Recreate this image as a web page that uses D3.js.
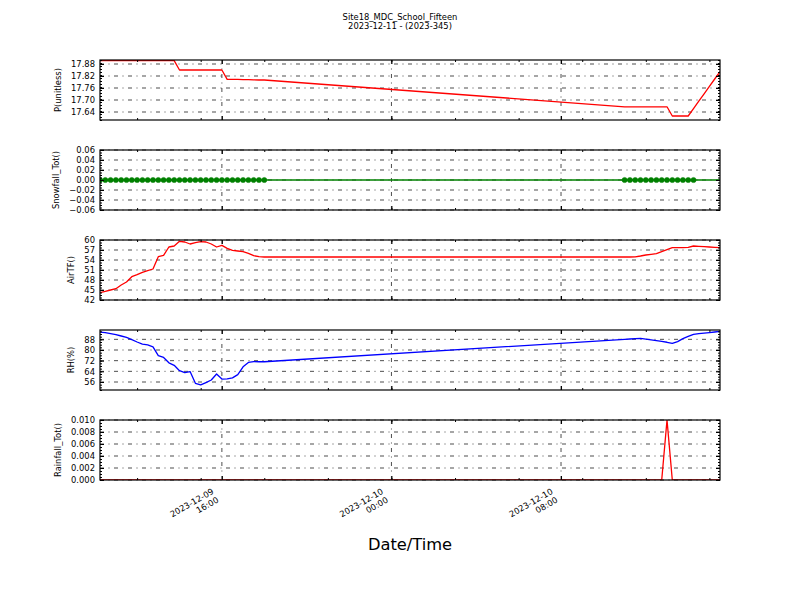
<!DOCTYPE html>
<html>
<head>
<meta charset="utf-8">
<script src="https://cdn.jsdelivr.net/npm/d3@7"></script>
<style>
  body { margin: 0; background: #fff; }
  svg { display: block; font-family: "DejaVu Sans", sans-serif; }
</style>
</head>
<body>
<svg id="chart" width="800" height="600"></svg>
<script>
// ---------------- DATA ----------------
const titleLine1 = "Site18_MDC_School_Fifteen";
const titleLine2 = "2023-12-11 - (2023-345)";
const xAxisLabel = "Date/Time";

const times = [
  "2023-12-09 10:15","2023-12-09 10:30","2023-12-09 10:45","2023-12-09 11:00",
  "2023-12-09 11:15","2023-12-09 11:30","2023-12-09 11:45","2023-12-09 12:00",
  "2023-12-09 12:15","2023-12-09 12:30","2023-12-09 12:45","2023-12-09 13:00",
  "2023-12-09 13:15","2023-12-09 13:30","2023-12-09 13:45","2023-12-09 14:00",
  "2023-12-09 14:15","2023-12-09 14:30","2023-12-09 14:45","2023-12-09 15:00",
  "2023-12-09 15:15","2023-12-09 15:30","2023-12-09 15:45","2023-12-09 16:00",
  "2023-12-09 16:15","2023-12-09 16:30","2023-12-09 16:45","2023-12-09 17:00",
  "2023-12-09 17:15","2023-12-09 17:30","2023-12-09 17:45","2023-12-09 18:00",
  "2023-12-10 11:00","2023-12-10 11:15","2023-12-10 11:30","2023-12-10 11:45",
  "2023-12-10 12:00","2023-12-10 12:15","2023-12-10 12:30","2023-12-10 12:45",
  "2023-12-10 13:00","2023-12-10 13:15","2023-12-10 13:30","2023-12-10 13:45",
  "2023-12-10 14:00","2023-12-10 14:15","2023-12-10 14:30","2023-12-10 14:45",
  "2023-12-10 15:00","2023-12-10 15:15","2023-12-10 15:30"
];

const pressure = [
  17.897,17.897,17.897,17.897,17.897,17.897,17.897,17.897,
  17.897,17.897,17.897,17.897,17.897,17.897,17.897,17.850,
  17.850,17.850,17.850,17.850,17.850,17.850,17.850,17.850,
  17.803,17.803,17.803,17.802,17.802,17.801,17.800,17.800,
  17.666,17.666,17.666,17.666,17.666,17.666,17.666,17.666,
  17.666,17.620,17.620,17.620,17.620,17.657,17.694,17.731,
  17.768,17.805,17.842
];

const snowfall = [
  0,0,0,0,0,0,0,0,0,0,0,0,0,0,0,0,
  0,0,0,0,0,0,0,0,0,0,0,0,0,0,0,0,
  0,0,0,0,0,0,0,0,0,0,0,0,0,0,0,0,0,0,0
];
// snowfall samples that carry a marker
const snowMarked = [
  1,1,1,1,1,1,1,1,1,1,1,1,1,1,1,1,
  1,1,1,1,1,1,1,1,1,1,1,1,1,1,1,1,
  1,1,1,1,1,1,1,1,1,1,1,1,1,1,0,0,0,0,0
];

const airTF = [
  44.2,44.6,45.0,45.4,46.5,47.4,49.0,49.6,
  50.3,50.8,51.3,55.0,55.4,57.9,58.2,59.6,
  59.4,58.8,59.2,59.5,59.4,58.8,57.9,58.4,
  57.5,56.9,56.7,56.5,56.0,55.3,55.0,54.9,
  54.9,54.9,54.95,55.2,55.5,55.7,55.9,56.5,
  57.1,57.7,57.7,57.7,57.8,58.2,58.1,58.0,
  57.9,57.8,57.7
];

const rh = [
  93.4,93.0,92.3,91.5,90.5,89.5,87.8,86.0,
  84.4,83.8,82.4,75.8,74.4,70.4,68.5,64.5,
  63.0,63.8,55.0,53.8,55.6,57.5,62.0,58.2,
  58.3,59.1,61.5,67.4,70.7,71.3,71.2,71.2,
  88.0,88.25,88.5,88.75,88.2,87.6,87.0,86.4,
  85.8,85.0,86.3,88.5,90.2,91.7,92.3,92.7,
  93.1,93.5,93.9
];

const rainfall = [
  0,0,0,0,0,0,0,0,0,0,0,0,0,0,0,0,
  0,0,0,0,0,0,0,0,0,0,0,0,0,0,0,0,
  0,0,0,0,0,0,0,0,0.010,0,0,0,0,0,0,0,0,0,0
];

const pTicks = [17.64, 17.70, 17.76, 17.82, 17.88];
const snowTicks = [-0.06, -0.04, -0.02, 0.00, 0.02, 0.04, 0.06];
const airTicks = [42, 45, 48, 51, 54, 57, 60];
const rhTicks = [56, 64, 72, 80, 88];
const rainTicks = [0.000, 0.002, 0.004, 0.006, 0.008, 0.010];

const xTickLabels = ["2023-12-09 16:00", "2023-12-10 00:00", "2023-12-10 08:00"];

// ---------------- DRAW ----------------
const parse = d3.timeParse("%Y-%m-%d %H:%M");
const T = times.map(parse);
const svg = d3.select("#chart");
const L = 100, R = 720, PH = 60;
const small = 8.4;

const x = d3.scaleTime().domain([T[0], T[T.length - 1]]).range([L, R]);
const majorX = xTickLabels.map(parse);
const minorX = d3.timeHour.every(3).range(T[0], T[T.length - 1]);

const panels = [
  {vals: pressure, dom: [17.60, 17.90], ticks: pTicks, minor: 0.015, fmt: d3.format(".2f"), label: "P(unitless)", color: "#ff0000"},
  {vals: snowfall, dom: [-0.06, 0.06], ticks: snowTicks, minor: 0.005, fmt: d3.format(".2f"), label: "Snowfall_Tot()", color: "#008000", markers: true},
  {vals: airTF, dom: [42, 60], ticks: airTicks, minor: 0.75, fmt: d3.format("d"), label: "AirTF()", color: "#ff0000"},
  {vals: rh, dom: [50, 95], ticks: rhTicks, minor: 2, fmt: d3.format("d"), label: "RH(%)", color: "#0000ff"},
  {vals: rainfall, dom: [0, 0.010], ticks: rainTicks, minor: 0.0005, fmt: d3.format(".3f"), label: "Rainfall_Tot()", color: "#ff0000"}
];
const tops = [60, 150, 240, 330, 420];

// title
svg.append("text").attr("x", 400).attr("y", 20).attr("text-anchor", "middle")
  .attr("font-size", small).text(titleLine1);
svg.append("text").attr("x", 400).attr("y", 28.5).attr("text-anchor", "middle")
  .attr("font-size", small).text(titleLine2);

panels.forEach((p, i) => {
  const top = tops[i], bot = top + PH;
  const y = d3.scaleLinear().domain(p.dom).range([bot, top]);
  const g = svg.append("g");

  const clipId = "clip" + i;
  svg.append("clipPath").attr("id", clipId).append("rect")
    .attr("x", L).attr("y", top).attr("width", R - L).attr("height", PH);

  // grid
  const grid = g.append("g").attr("stroke", "#000").attr("stroke-width", 0.7)
    .attr("stroke-dasharray", "4,4.5,1,4.5").attr("fill", "none");
  p.ticks.forEach(t => {
    grid.append("line").attr("x1", L).attr("x2", R).attr("y1", y(t)).attr("y2", y(t));
  });
  majorX.forEach(t => {
    grid.append("line").attr("x1", x(t)).attr("x2", x(t)).attr("y1", top).attr("y2", bot);
  });

  // data line
  const data = T.map((t, k) => ({t: t, v: p.vals[k], m: p.markers ? snowMarked[k] : 0}));
  const line = d3.line().x(d => x(d.t)).y(d => y(d.v));
  const dg = g.append("g").attr("clip-path", `url(#${clipId})`);
  dg.append("path").datum(data).attr("d", line).attr("fill", "none")
    .attr("stroke", p.color).attr("stroke-width", 1.3).attr("stroke-linejoin", "round");
  if (p.markers) {
    dg.selectAll("circle").data(data.filter(d => d.m)).join("circle")
      .attr("cx", d => x(d.t)).attr("cy", d => y(d.v)).attr("r", 2.6)
      .attr("fill", p.color).attr("stroke", p.color).attr("stroke-width", 0.5);
  }

  // ticks
  const minorY = d3.range(p.dom[0], p.dom[1] + p.minor / 2, p.minor);
  const ax = [];
  ax.push(g.append("g").attr("transform", `translate(${L},0)`)
    .call(d3.axisRight(y).tickValues(minorY).tickSize(2).tickFormat("")));
  ax.push(g.append("g").attr("transform", `translate(${R},0)`)
    .call(d3.axisLeft(y).tickValues(minorY).tickSize(2).tickFormat("")));
  ax.push(g.append("g").attr("transform", `translate(${R},0)`)
    .call(d3.axisLeft(y).tickValues(p.ticks).tickSize(4).tickFormat("")));
  const leftAx = g.append("g").attr("transform", `translate(${L},0)`)
    .call(d3.axisLeft(y).tickValues(p.ticks).tickSize(0).tickPadding(5).tickFormat(p.fmt));
  ax.push(leftAx);
  ax.push(g.append("g").attr("transform", `translate(${L},0)`)
    .call(d3.axisRight(y).tickValues(p.ticks).tickSize(4).tickFormat("")));
  ax.push(g.append("g").attr("transform", `translate(0,${top})`)
    .call(d3.axisBottom(x).tickValues(majorX).tickSize(4).tickFormat("")));
  ax.push(g.append("g").attr("transform", `translate(0,${bot})`)
    .call(d3.axisTop(x).tickValues(majorX).tickSize(4).tickFormat("")));
  ax.push(g.append("g").attr("transform", `translate(0,${top})`)
    .call(d3.axisBottom(x).tickValues(minorX).tickSize(2).tickFormat("")));
  ax.push(g.append("g").attr("transform", `translate(0,${bot})`)
    .call(d3.axisTop(x).tickValues(minorX).tickSize(2).tickFormat("")));
  ax.forEach(a => {
    a.select(".domain").remove();
    a.selectAll("line").attr("stroke", "#000").attr("stroke-width", 1);
    a.selectAll("text").attr("font-size", small).attr("font-family", "DejaVu Sans").attr("fill", "#000");
  });

  // frame
  g.append("rect").attr("x", L).attr("y", top).attr("width", R - L).attr("height", PH)
    .attr("fill", "none").attr("stroke", "#000").attr("stroke-width", 1.2);

  // y label
  let minX = L;
  leftAx.selectAll("text").each(function () {
    const b = this.getBBox();
    minX = Math.min(minX, L + b.x);
  });
  svg.append("text")
    .attr("transform", `translate(${minX - 10},${top + PH / 2}) rotate(-90)`)
    .attr("text-anchor", "middle").attr("font-size", small).text(p.label);

  // x tick labels on bottom panel only
  if (i === panels.length - 1) {
    const fmtD = d3.timeFormat("%Y-%m-%d"), fmtT = d3.timeFormat("%H:%M");
    majorX.forEach(t => {
      const lg = svg.append("g")
        .attr("transform", `translate(${x(t) - 11},${bot + 7}) rotate(-30)`);
      lg.append("text").attr("x", 0).attr("y", 7).attr("text-anchor", "end")
        .attr("font-size", small).text(fmtD(t));
      lg.append("text").attr("x", 0).attr("y", 16.8).attr("text-anchor", "end")
        .attr("font-size", small).text(fmtT(t));
    });
  }
});

svg.append("text").attr("x", 410).attr("y", 550).attr("text-anchor", "middle")
  .attr("font-size", 16.3).text(xAxisLabel);
</script>
</body>
</html>
